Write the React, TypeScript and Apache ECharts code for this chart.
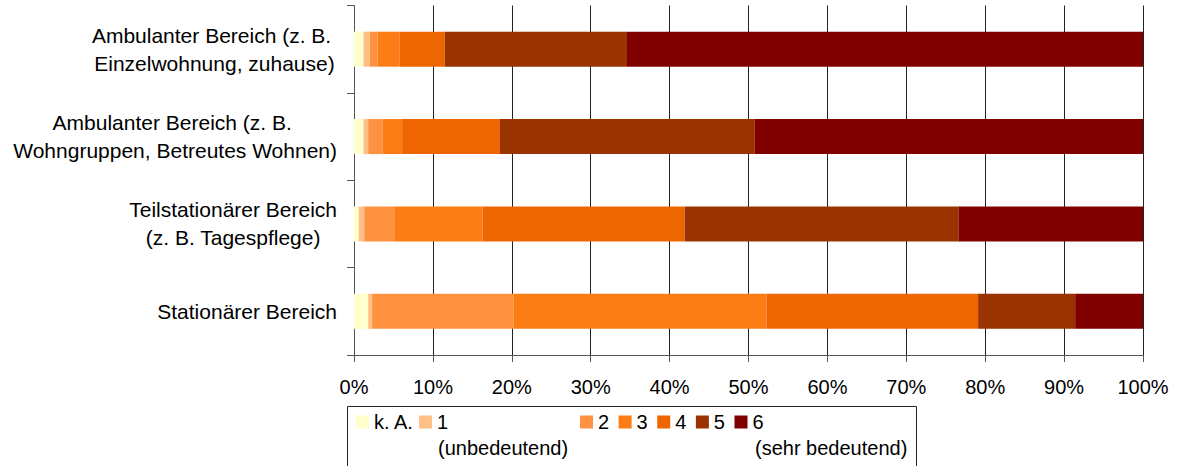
import React, { useEffect, useRef } from "react";
import * as echarts from "echarts";

const categories = [
  "Ambulanter Bereich (z. B. \nEinzelwohnung, zuhause)",
  "Ambulanter Bereich (z. B. \nWohngruppen, Betreutes Wohnen)",
  "Teilstationärer Bereich\n(z. B. Tagespflege)",
  "Stationärer Bereich",
];

const seriesNames = ["k. A.", "1", "2", "3", "4", "5", "6"];
const kA = [1.2, 1.2, 0.6, 1.8];
const r1 = [0.8, 0.6, 0.7, 0.5];
const r2 = [1.0, 1.8, 3.8, 17.9];
const r3 = [2.8, 2.5, 11.2, 32.1];
const r4 = [5.7, 12.4, 25.6, 26.8];
const r5 = [23.1, 32.3, 34.7, 12.3];
const r6 = [65.4, 49.2, 23.4, 8.6];
const seriesValues = [kA, r1, r2, r3, r4, r5, r6];
const colors = ["#FFFFCC", "#FFBF86", "#FF9240", "#FC7C15", "#EE6602", "#993300", "#800000"];
const xTicks = { min: 0, max: 100, interval: 10 };
const legendSubLabels = ["(unbedeutend)", "(sehr bedeutend)"];

const FONT = "'Liberation Sans', Arial, sans-serif";

export default function App() {
  const ref = useRef<HTMLDivElement>(null);
  useEffect(() => {
    document.body.style.margin = "0";
    const chart = echarts.init(ref.current!, null, { renderer: "svg" });
    chart.setOption({
      animation: false,
      textStyle: { fontFamily: FONT, color: "#000" },
      grid: { left: 354, right: 35, top: 5.5, bottom: 111, containLabel: false },
      xAxis: {
        type: "value",
        min: xTicks.min,
        max: xTicks.max,
        interval: xTicks.interval,
        axisLine: { show: true, lineStyle: { color: "#555", width: 1 } },
        axisTick: { show: true, length: 7, lineStyle: { color: "#555" } },
        axisLabel: { formatter: "{value}%", fontSize: 20, color: "#000", fontFamily: FONT, margin: 22 },
        splitLine: { show: true, lineStyle: { color: "#222", width: 1 } },
      },
      yAxis: {
        type: "category",
        data: categories,
        inverse: true,
        axisLine: { show: true, lineStyle: { color: "#555", width: 1 } },
        axisTick: { show: true, length: 7, lineStyle: { color: "#555" } },
        axisLabel: {
          margin: 17,
          align: "right",
          color: "#000",
          fontSize: 21,
          fontFamily: FONT,
          formatter: (v: string) =>
            v
              .split("\n")
              .map((l) => `{c|${l}}`)
              .join("\n"),
          rich: { c: { align: "center", fontSize: 21, lineHeight: 28, fontFamily: FONT, color: "#000" } },
        },
        splitLine: { show: false },
      },
      legend: [
        {
          data: seriesNames.slice(0, 2),
          left: 356,
          top: 412,
          padding: 0,
          itemWidth: 13,
          itemHeight: 13,
          itemGap: 5,
          icon: "rect",
          textStyle: { fontSize: 20, color: "#000", fontFamily: FONT },
        },
        {
          data: seriesNames.slice(2),
          left: 580,
          top: 412,
          padding: 0,
          itemWidth: 13,
          itemHeight: 13,
          itemGap: 9.5,
          icon: "rect",
          textStyle: { fontSize: 20, color: "#000", fontFamily: FONT },
        },
      ],
      graphic: [
        {
          type: "rect",
          shape: { x: 347.5, y: 406.5, width: 569, height: 80 },
          style: { fill: "none", stroke: "#222", lineWidth: 1 },
          silent: true,
        },
        {
          type: "text",
          x: 438,
          y: 448,
          style: { text: legendSubLabels[0], font: `20px ${FONT}`, fill: "#000", textVerticalAlign: "middle", verticalAlign: "middle" },
        },
        {
          type: "text",
          x: 755,
          y: 448,
          style: { text: legendSubLabels[1], font: `20px ${FONT}`, fill: "#000", textVerticalAlign: "middle", verticalAlign: "middle" },
        },
      ],
      series: seriesNames.map((name, i) => ({
        name,
        type: "bar",
        stack: "total",
        barWidth: 35,
        data: seriesValues[i],
        itemStyle: { color: colors[i] },
        emphasis: { disabled: true },
      })),
    });
    return () => chart.dispose();
  }, []);
  return <div ref={ref} style={{ position: "absolute", left: 0, top: 0, width: 1178, height: 466 }} />;
}
